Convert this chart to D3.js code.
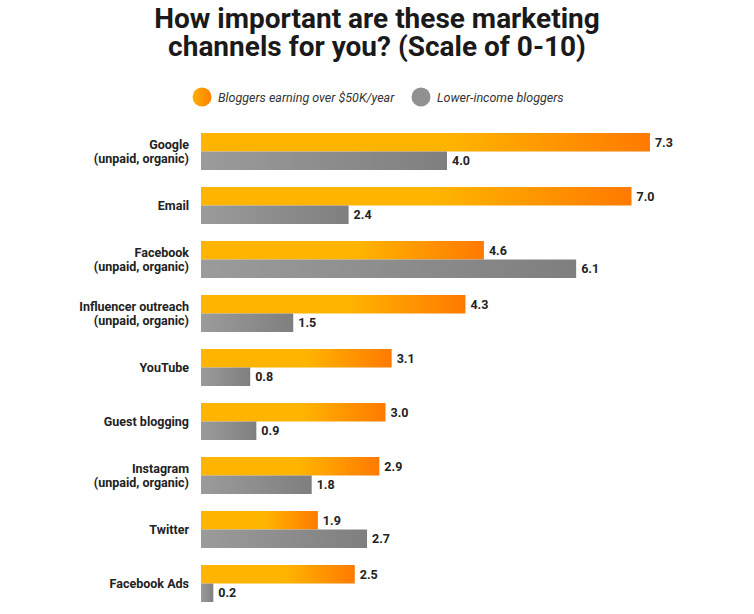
<!DOCTYPE html>
<html>
<head>
<meta charset="utf-8">
<script src="https://cdn.jsdelivr.net/npm/d3@7/dist/d3.min.js"></script>
<style>
  html, body { margin: 0; padding: 0; background: #fff; }
  svg { display: block; }
  text { font-family: Roboto, "Noto Sans", sans-serif; }
</style>
</head>
<body>
<svg id="chart" width="754" height="614"></svg>
<script>
const categories = [
  ["Google", "(unpaid, organic)"],
  ["Email"],
  ["Facebook", "(unpaid, organic)"],
  ["Influencer outreach", "(unpaid, organic)"],
  ["YouTube"],
  ["Guest blogging"],
  ["Instagram", "(unpaid, organic)"],
  ["Twitter"],
  ["Facebook Ads"]
];
const highIncome = [7.3, 7.0, 4.6, 4.3, 3.1, 3.0, 2.9, 1.9, 2.5];
const lowIncome  = [4.0, 2.4, 6.1, 1.5, 0.8, 0.9, 1.8, 2.7, 0.2];
const seriesNames = ["Bloggers earning over $50K/year", "Lower-income bloggers"];
const titleLines = ["How important are these marketing", "channels for you? (Scale of 0-10)"];

const svg = d3.select("#chart");
const W = 754;

// gradients
const defs = svg.append("defs");
const gO = defs.append("linearGradient").attr("id", "gOrange").attr("x1", "0%").attr("x2", "100%");
gO.append("stop").attr("offset", "0%").attr("stop-color", "#FFB400");
gO.append("stop").attr("offset", "55%").attr("stop-color", "#FFB400");
gO.append("stop").attr("offset", "100%").attr("stop-color", "#FF7A00");
const gG = defs.append("linearGradient").attr("id", "gGray").attr("x1", "0%").attr("x2", "100%");
gG.append("stop").attr("offset", "0%").attr("stop-color", "#9B9B9B");
gG.append("stop").attr("offset", "100%").attr("stop-color", "#7F7F7F");
const gL = defs.append("linearGradient").attr("id", "gLegO").attr("x1", "0%").attr("x2", "100%");
gL.append("stop").attr("offset", "0%").attr("stop-color", "#FFB000");
gL.append("stop").attr("offset", "100%").attr("stop-color", "#FF8000");

// title
svg.append("text")
  .attr("x", W / 2).attr("y", 27.5)
  .attr("text-anchor", "middle")
  .attr("font-size", 28).attr("font-weight", 700).attr("fill", "#1a1a1a")
  .selectAll("tspan").data(titleLines).join("tspan")
  .attr("x", W / 2).attr("dy", (d, i) => i === 0 ? 0 : 28)
  .text(d => d);

// legend
const legend = [
  { name: seriesNames[0], fill: "url(#gLegO)", cx: 202, tx: 218 },
  { name: seriesNames[1], fill: "#909090", cx: 421, tx: 437 }
];
const lg = svg.append("g").selectAll("g").data(legend).join("g");
lg.append("circle").attr("cx", d => d.cx).attr("cy", 97).attr("r", 9.5).attr("fill", d => d.fill);
lg.append("text").attr("x", d => d.tx).attr("y", 101.5)
  .attr("font-size", 12.5).attr("font-style", "italic").attr("fill", "#333")
  .text(d => d.name);

// scales
const x0 = 201;
const x = d3.scaleLinear().domain([0, 10]).range([x0, x0 + 615]);
const step = 54, band = 37;
const y = d3.scaleBand().domain(d3.range(categories.length))
  .range([133, 133 + step * (categories.length - 1) + band])
  .paddingInner((step - band) / step).paddingOuter(0).align(0);
const bh = y.bandwidth() / 2;

const groups = svg.append("g").selectAll("g").data(categories).join("g")
  .attr("transform", (d, i) => `translate(0,${y(i)})`);

groups.append("rect")
  .attr("x", x(0)).attr("y", 0)
  .attr("width", (d, i) => x(highIncome[i]) - x(0)).attr("height", bh)
  .attr("fill", "url(#gOrange)");
groups.append("rect")
  .attr("x", x(0)).attr("y", bh)
  .attr("width", (d, i) => x(lowIncome[i]) - x(0)).attr("height", bh)
  .attr("fill", "url(#gGray)");

groups.append("text")
  .attr("x", (d, i) => x(highIncome[i]) + 5).attr("y", bh / 2 + 4.5)
  .attr("font-size", 12.5).attr("font-weight", 700).attr("fill", "#222")
  .text((d, i) => highIncome[i].toFixed(1));
groups.append("text")
  .attr("x", (d, i) => x(lowIncome[i]) + 5).attr("y", bh * 1.5 + 4.5)
  .attr("font-size", 12.5).attr("font-weight", 700).attr("fill", "#222")
  .text((d, i) => lowIncome[i].toFixed(1));

// category labels
groups.append("text")
  .attr("text-anchor", "end")
  .attr("font-size", 12.5).attr("font-weight", 700).attr("fill", "#222")
  .selectAll("tspan").data(d => d.map((t, k) => ({ t, k, n: d.length }))).join("tspan")
  .attr("x", 189)
  .attr("y", d => bh + 4.5 + (d.k - (d.n - 1) / 2) * 14.5)
  .text(d => d.t);
</script>
</body>
</html>
